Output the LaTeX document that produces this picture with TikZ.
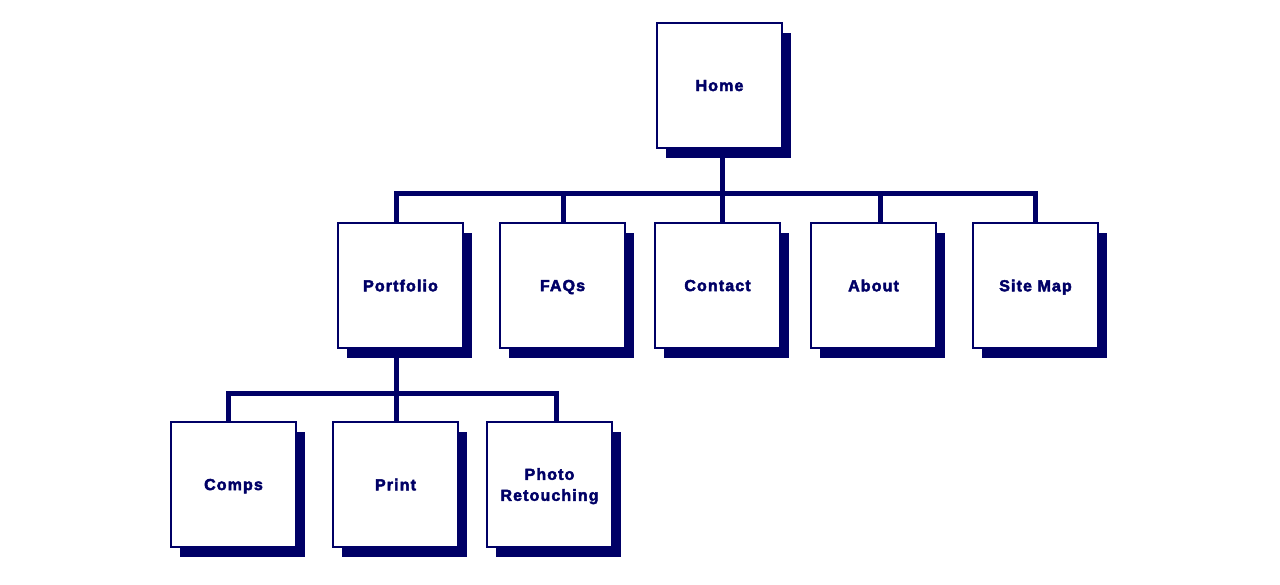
\documentclass[tikz,border=0pt]{standalone}
\usepackage{fontspec}
\newfontfamily\pagefont{Liberation Sans Bold}[LetterSpace=7, FakeBold=2.8]
\usetikzlibrary{shadows, backgrounds, positioning}
\definecolor{navy}{HTML}{000066}

\tikzset{
  page/.style={draw=navy, line width=1.2pt, fill=white, minimum width=125pt,
    minimum height=125pt, inner sep=0pt, align=center, text=navy, text depth=0pt,
    font=\pagefont\fontsize{16}{21}\selectfont,
    drop shadow={shadow xshift=9pt, shadow yshift=-10pt, fill=navy, opacity=1}},
  link/.style={draw=navy, line width=5pt, line join=miter}
}

\begin{document}
\begin{tikzpicture}[x=1pt, y=-1pt]
  \useasboundingbox (0,0) rectangle (1280,584);

  % Top level
  \node[page] (Home) at (719.5,85.5) {Home};

  % Second level
  \node[page] (Portfolio) at (400.5,285.5) {Portfolio};
  \node[page] (FAQs)      at (562.5,285.5) {FAQs};
  \node[page] (Contact)   at (717.5,285.5) {Contact};
  \node[page] (About)     at (873.5,285.5) {About};
  \node[page] (SiteMap)   at (1035.5,285.5) {Site Map};

  % Third level
  \node[page] (Comps) at (233.5,484.5) {Comps};
  \node[page] (Print) at (395.5,484.5) {Print};
  \node[page] (Photo) at (549.5,484.5) {Photo\\Retouching};

  % Bus lines
  \coordinate (HomeBus)  at (722,193);
  \coordinate (PortBus)  at (396,393);

  \begin{scope}[on background layer]
    \draw[link] ([xshift=2.5pt]Home.south) -- (HomeBus);
    \draw[link] ([xshift=-4.5pt]Portfolio.north) |- (HomeBus);
    \draw[link] ([xshift=0.5pt]FAQs.north) |- (HomeBus);
    \draw[link] ([xshift=4.5pt]Contact.north) -- (HomeBus);
    \draw[link] ([xshift=6.5pt]About.north) |- (HomeBus);
    \draw[link] ([xshift=-0.5pt]SiteMap.north) |- (HomeBus);

    \draw[link] ([xshift=-4.5pt]Portfolio.south) -- (PortBus);
    \draw[link] ([xshift=-5.5pt]Comps.north) |- (PortBus);
    \draw[link] ([xshift=0.5pt]Print.north) -- (PortBus);
    \draw[link] ([xshift=6.5pt]Photo.north) |- (PortBus);
  \end{scope}
\end{tikzpicture}
\end{document}
